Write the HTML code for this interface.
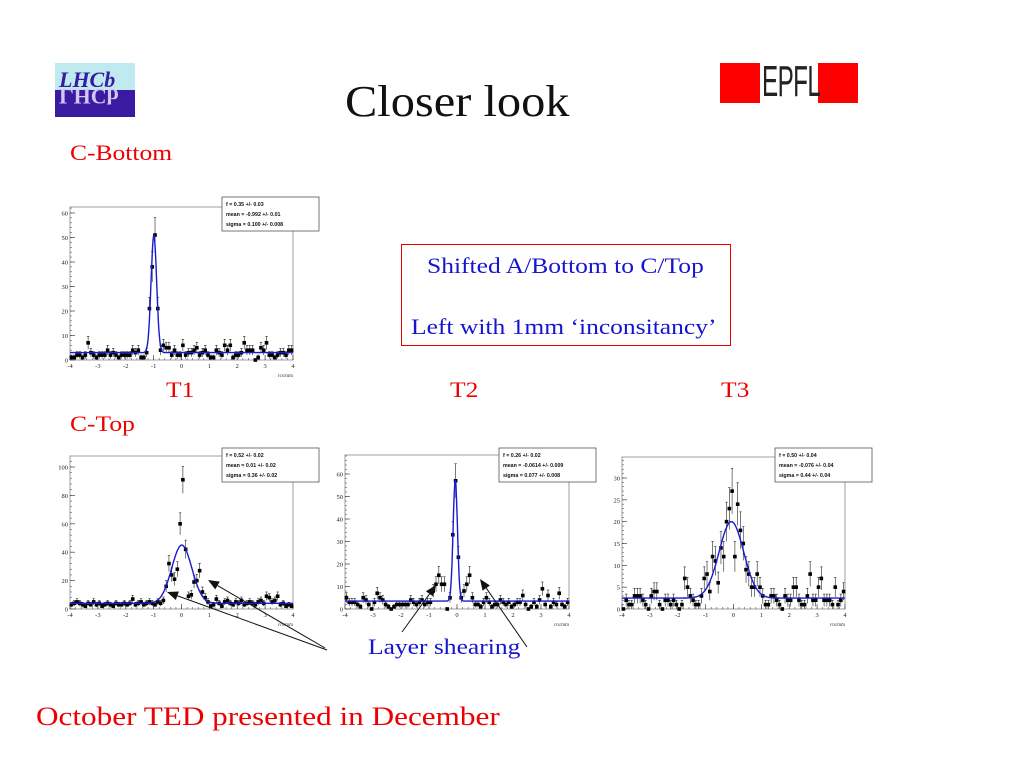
<!DOCTYPE html>
<html><head><meta charset="utf-8">
<style>
html,body{margin:0;padding:0;background:#fff;}
#root{position:relative;width:1024px;height:768px;overflow:hidden;font-family:"Liberation Serif",serif;}
.t{position:absolute;white-space:nowrap;transform-origin:left top;}
.w{transform:scaleX(1.16);}
</style></head>
<body>
<div id="root">
<div style="position:absolute;left:55px;top:63px;width:80px;height:54px;overflow:hidden;">
  <div style="position:absolute;left:0;top:0;width:80px;height:27px;background:#bfeaf0;"></div>
  <div style="position:absolute;left:0;top:27px;width:80px;height:27px;background:#3a1aa0;"></div>
  <div style="position:absolute;left:4px;top:4px;font:italic bold 22px 'Liberation Serif',serif;color:#3a1aa0;">LHCb</div>
  <div style="position:absolute;left:4px;top:20px;font:bold 22px 'Liberation Serif',serif;color:#cfc8f0;transform:scaleY(-1);">LHCb</div>
</div>
<div style="position:absolute;left:720px;top:63px;width:138px;height:40px;background:#ff0000;overflow:hidden;">
  <div style="position:absolute;left:40px;top:0;width:58px;height:40px;background:#fff;"></div>
  <div style="position:absolute;left:42px;top:-6px;font:44px 'Liberation Sans Narrow','Liberation Sans',sans-serif;color:#222;transform:scaleX(0.55);transform-origin:left;letter-spacing:-1px;">EPFL</div>
</div>
<div class="t" style="left:345px;top:76px;font-size:44px;color:#111;transform:scaleX(1.1);">Closer look</div>
<div class="t w" style="left:70px;top:140px;font-size:22px;color:#e00;">C-Bottom</div>
<div class="t w" style="left:70px;top:411px;font-size:22px;color:#e00;">C-Top</div>
<div class="t w" style="left:166px;top:377px;font-size:22px;color:#e00;">T1</div>
<div class="t w" style="left:450px;top:377px;font-size:22px;color:#e00;">T2</div>
<div class="t w" style="left:721px;top:377px;font-size:22px;color:#e00;">T3</div>
<div style="position:absolute;left:401px;top:244px;width:328px;height:100px;border:1px solid #e00;">
  <div class="t w" style="left:25px;top:8px;font-size:22px;color:#1515d0;">Shifted A/Bottom to C/Top</div>
  <div class="t w" style="left:9px;top:69px;font-size:22px;color:#1515d0;">Left with 1mm ‘inconsitancy’</div>
</div>
<div class="t w" style="left:368px;top:634px;font-size:22px;color:#1515d0;">Layer shearing</div>
<div class="t" style="left:36px;top:702px;font-size:26px;color:#e00;transform:scaleX(1.2);">October TED presented in December</div>
<svg id="svg" width="1024" height="768" style="position:absolute;left:0;top:0;" font-family="Liberation Sans, sans-serif"></svg>
</div>
<script>
const binCenters0 = -3.95, binWidth = 0.1;
const cBottomT1 = [1,1,2,2,1,2,7,3,2,1, 2,2,2,4,2,3,2,1,2,2, 2,2,4,3,4,1,1,3,21,38, 51,21,4,6,5,5,2,4,2,2, 6,2,3,3,4,5,2,3,4,2, 1,1,4,3,2,6,4,6,1,2, 2,3,7,4,4,4,0,1,5,4, 7,2,2,1,2,3,3,2,4,4];
const cTopT1 = [3,4,5,4,3,2,4,3,5,3, 4,2,3,4,3,2,4,3,3,4, 3,4,7,3,4,5,3,4,5,4, 3,5,4,6,16,32,24,21,28,60, 91,42,9,10,19,20,27,12,8,5, 2,3,7,4,2,5,6,4,3,5, 4,6,3,4,5,4,3,5,6,4, 9,8,5,6,9,3,4,2,3,2];
const cTopT2 = [5,3,3,3,2,1,5,4,2,0, 3,7,5,4,2,1,0,1,2,2, 2,2,2,4,3,2,3,4,2,3, 3,8,11,15,11,11,0,5,33,57, 23,5,8,11,15,5,2,2,1,3, 5,3,1,2,2,4,3,2,3,1, 2,3,3,6,2,0,1,3,1,4, 9,2,6,1,3,2,7,2,1,3];
const cTopT3 = [0,2,1,1,3,3,3,2,1,0, 3,4,4,1,0,2,2,1,2,1, 0,1,7,5,3,2,1,1,3,7, 8,4,12,11,6,14,12,20,23,27, 12,24,18,15,9,8,5,5,8,5, 3,1,1,3,3,2,1,0,3,2, 2,5,5,2,1,1,3,8,2,2, 5,7,2,2,2,1,5,1,2,4];
const fitBase = [3, 4, 3.5, 2.5];
const fitAmp = [48, 41, 54, 17.5];
const fitMean = [-0.992, 0.01, -0.0614, -0.076];
const fitSigma = [0.100, 0.36, 0.077, 0.44];
const statLines = [
 ["f =  0.35 +/- 0.03","mean = -0.992 +/- 0.01","sigma =  0.100 +/- 0.008"],
 ["f =  0.52 +/- 0.02","mean =  0.01 +/- 0.02","sigma =  0.36 +/- 0.02"],
 ["f =  0.26 +/- 0.02","mean = -0.0614 +/- 0.009","sigma =  0.077 +/- 0.008"],
 ["f =  0.50 +/- 0.04","mean = -0.076 +/- 0.04","sigma =  0.44 +/- 0.04"]];
const yTicks = [[0,10,20,30,40,50,60],[0,20,40,60,80,100],[0,10,20,30,40,50,60],[0,5,10,15,20,25,30]];
const yMinorStep = [2,4,2,1];
const xTicks = [-4,-3,-2,-1,0,1,2,3,4];
const datasets = [cBottomT1,cTopT1,cTopT2,cTopT3];
const names = ['c-bottom-t1','c-top-t1','c-top-t2','c-top-t3'];
const panels = [
 {x0:70,x1:293,y0:360,yRef:213,vRef:60,top:207,sx:222,sy:197},
 {x0:70,x1:293,y0:609,yRef:467,vRef:100,top:456,sx:222,sy:448},
 {x0:345,x1:569,y0:609,yRef:474,vRef:60,top:455,sx:499,sy:448},
 {x0:622,x1:845,y0:609,yRef:478,vRef:30,top:457,sx:775,sy:448}];
const NS='http://www.w3.org/2000/svg';
const svg=document.getElementById('svg');
function mk(tag,attrs,parent){const e=document.createElementNS(NS,tag);for(const k in attrs)e.setAttribute(k,attrs[k]);(parent||svg).appendChild(e);return e;}
panels.forEach((p,pi)=>{
 const g=mk('g',{});
 
 
 const X=v=>p.x0+(v+4)/8*(p.x1-p.x0);
 const Y=v=>p.y0-v/p.vRef*(p.y0-p.yRef);
 const frame=mk('rect',{x:p.x0,y:p.top,width:p.x1-p.x0,height:p.y0-p.top,fill:'none',stroke:'#888','stroke-width':0.8},g);
 
 
 const yt=yTicks[pi];
 for(let v=0; Y(v)>=p.top; v+=yMinorStep[pi]){mk('line',{x1:p.x0,x2:p.x0+2,y1:Y(v),y2:Y(v),stroke:'#555','stroke-width':0.6},g);}
 yt.forEach(v=>{mk('line',{x1:p.x0,x2:p.x0+5,y1:Y(v),y2:Y(v),stroke:'#444','stroke-width':0.7},g);
  const t=mk('text',{x:p.x0-2,y:Y(v)+2.5,'font-size':6.5,'text-anchor':'end',fill:'#222','font-family':'Liberation Serif, serif'},g);t.textContent=v;
  
  });
 for(let v=-4; v<=4.001; v+=0.2){mk('line',{x1:X(v),x2:X(v),y1:p.y0,y2:p.y0-2,stroke:'#555','stroke-width':0.6},g);}
 xTicks.forEach(v=>{mk('line',{x1:X(v),x2:X(v),y1:p.y0,y2:p.y0-5,stroke:'#444','stroke-width':0.7},g);
  const t=mk('text',{x:X(v),y:p.y0+8,'font-size':6.5,'text-anchor':'middle',fill:'#222','font-family':'Liberation Serif, serif'},g);t.textContent=v;
  
  });
 const xl=mk('text',{x:p.x1,y:p.y0+17,'font-size':5,'text-anchor':'end',fill:'#333','font-family':'Liberation Serif, serif'},g);xl.textContent='rcs/mm';
 
 
 datasets[pi].forEach((n,i)=>{
  const c=binCenters0+i*binWidth; const x=X(c); const e=Math.sqrt(n);
  const hi=Math.max(Y(n+e),p.top);
  mk('line',{x1:x,x2:x,y1:hi,y2:Y(Math.max(n-e,0)),stroke:'#222','stroke-width':0.6},g);
  mk('line',{x1:x-1.2,x2:x+1.2,y1:hi,y2:hi,stroke:'#222','stroke-width':0.6},g);
  mk('line',{x1:X(c-0.05),x2:X(c+0.05),y1:Y(n),y2:Y(n),stroke:'#222','stroke-width':0.6},g);
  const pt=mk('rect',{x:x-1.8,y:Y(n)-1.8,width:3.6,height:3.6,fill:'#000'},g);
  
  
 });
 let d='';
 for(let k=0;k<=400;k++){const v=-4+k*0.02;const f=fitBase[pi]+fitAmp[pi]*Math.exp(-0.5*Math.pow((v-fitMean[pi])/fitSigma[pi],2));d+=(k?'L':'M')+X(v).toFixed(1)+' '+Math.max(Y(f),p.top).toFixed(1);}
 const fl=mk('path',{d:d,fill:'none',stroke:'#1a1ad0','stroke-width':1.4},g);
 
 
 const sb=mk('rect',{x:p.sx,y:p.sy,width:97,height:34,fill:'#fff',stroke:'#555','stroke-width':0.8},g);
 
 
 statLines[pi].forEach((s,j)=>{const t=mk('text',{x:p.sx+4,y:p.sy+9+j*10,'font-size':5.3,'font-weight':'bold',fill:'#111'},g);t.textContent=s;
  
  });
});
const arrows=[[325,648,208,580],[327,650,167,592],[402,632,436,585],[527,647,480,579]];
arrows.forEach(a=>{
 const [x1,y1,x2,y2]=a; const ang=Math.atan2(y2-y1,x2-x1); const L=11,W=4.5;
 const bx=x2-L*Math.cos(ang), by=y2-L*Math.sin(ang);
 const l=mk('line',{x1:x1,y1:y1,x2:bx,y2:by,stroke:'#111','stroke-width':1});
 
 
 mk('polygon',{points:`${x2},${y2} ${bx-W*Math.sin(ang)},${by+W*Math.cos(ang)} ${bx+W*Math.sin(ang)},${by-W*Math.cos(ang)}`,fill:'#111'});
});
</script>
</body></html>
